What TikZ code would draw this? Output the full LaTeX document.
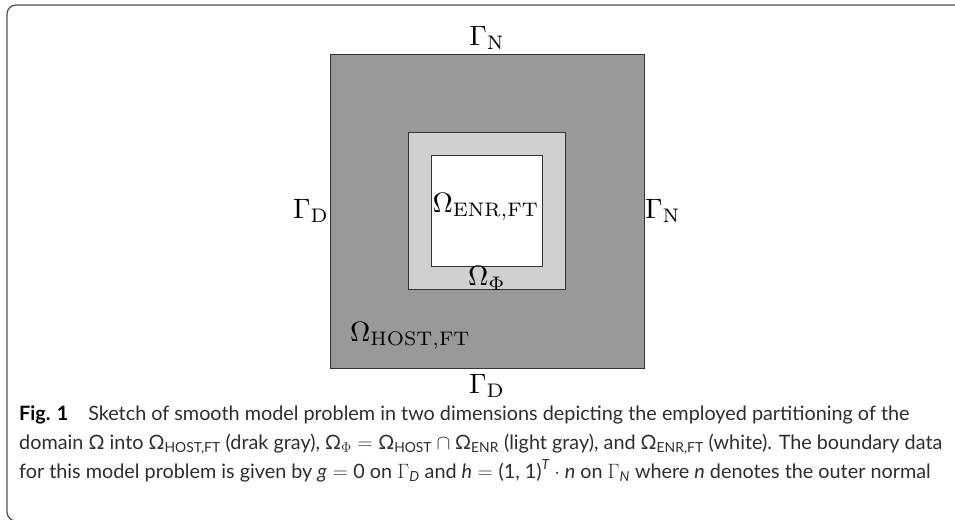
\documentclass[tikz,border=0pt]{standalone}
\usepackage{amsmath}
\usepackage[no-math]{fontspec}
\setmainfont{Lato}
\usetikzlibrary{positioning}
\definecolor{hostgray}{RGB}{153,153,153}
\definecolor{phigray}{RGB}{207,209,208}
\definecolor{edgegray}{RGB}{51,51,51}
\definecolor{framegray}{RGB}{80,80,80}
\definecolor{captext}{RGB}{45,45,45}
\newcommand{\capit}[1]{\text{\itshape #1}}

\begin{document}
\begin{tikzpicture}[x=1pt, y=-1pt,
    sq/.style={draw=edgegray, line width=0.9pt, inner sep=0pt, minimum size=#1},
    lbl/.style={inner sep=0pt, scale=2.8},
    frame/.style={draw=framegray, line width=1.2pt, rounded corners=9pt}
  ]
  \useasboundingbox (0,0) rectangle (955,519);
  \draw[frame] (7,5) rectangle (1000,521);
  % the three subdomains
  \node (host) [sq=314pt, fill=hostgray] at (487,211) {};
  \node (phi)  [sq=157pt, fill=phigray]  at (host.center) {};
  \node (enr)  [sq=111pt, fill=white]    at (host.center) {};
  % boundary parts
  \node (gtop) [above=3pt of host.north, lbl] {$\Gamma_{\mathrm{N}}$};
  \node (gbot) [below=5pt of host.south, lbl] {$\Gamma_{\mathrm{D}}$};
  \node (glft) [left=0pt of host.west, lbl]   {$\Gamma_{\mathrm{D}}$};
  \node (grgt) [right=0pt of host.east, lbl]  {$\Gamma_{\mathrm{N}}$};
  % subdomain names
  \node (lenr)  [anchor=base west, xshift=1pt, yshift=-1pt, lbl] at (enr.west) {$\Omega_{\mathrm{ENR,FT}}$};
  \node (lphi)  [anchor=base, yshift=4pt, lbl] at (phi.south) {$\Omega_{\Phi}$};
  \node (lhost) [anchor=base west, xshift=20pt, yshift=27pt, lbl] at (host.south west) {$\Omega_{\mathrm{HOST,FT}}$};
  % caption
  \node (cap) [anchor=north west, align=left, inner sep=0pt, text=captext,
               font=\fontsize{19.8}{29}\selectfont] at (19,406) {%
    {\color{black}\textbf{Fig. 1}}\quad Sketch of smooth model problem in two dimensions depicting the employed partitioning of the\\
    domain Ω into $\text{Ω}_{\text{HOST,FT}}$ (drak gray), $\text{Ω}_{\Phi} = \text{Ω}_{\text{HOST}} \cap \text{Ω}_{\text{ENR}}$ (light gray), and $\text{Ω}_{\text{ENR,FT}}$ (white). The boundary data\\
    for this model problem is given by $\capit{g} = \text{0}$ on $\Gamma_{\capit{D}}$ and $\capit{h} = \text{(1, 1)}^{\capit{T}} \cdot \capit{n}$ on $\Gamma_{\capit{N}}$ where \textit{n} denotes the outer normal};
\end{tikzpicture}
\end{document}
